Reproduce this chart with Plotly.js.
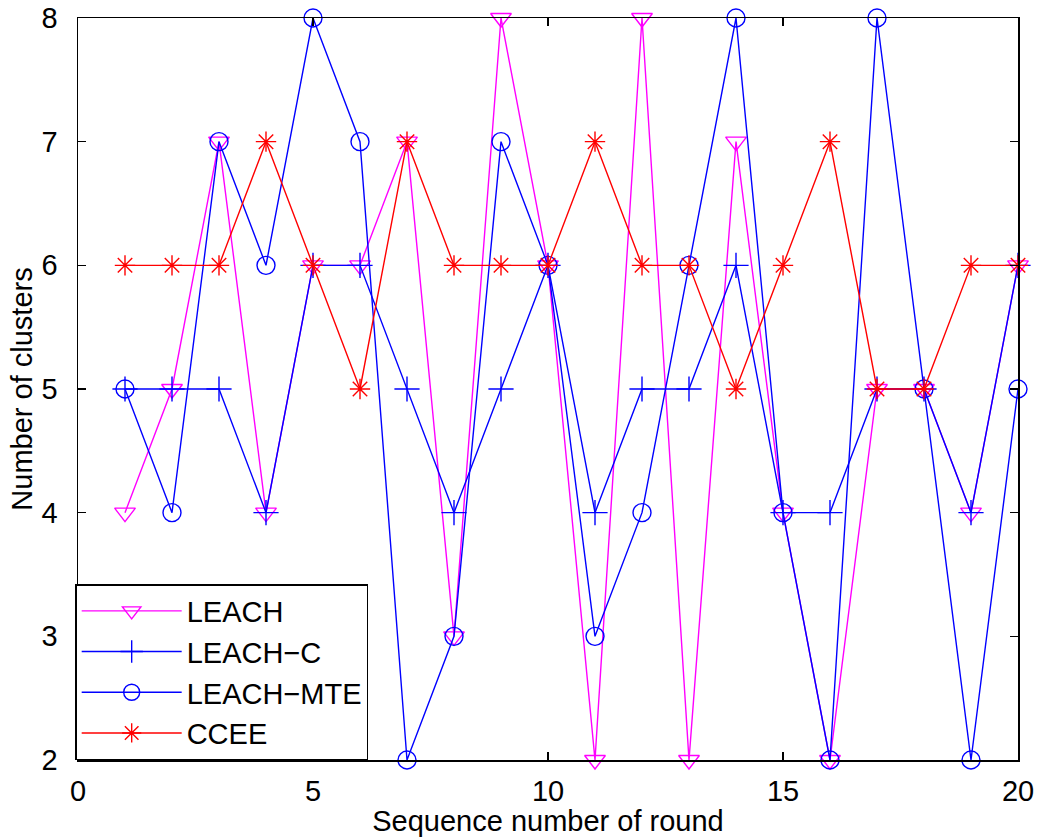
<!DOCTYPE html>
<html>
<head>
<meta charset="utf-8">
<script src="https://cdn.plot.ly/plotly-3.0.1.min.js"></script>
<style>html,body{margin:0;padding:0;background:#fff;}#chart{width:1037px;height:837px;}</style>
</head>
<body>
<div id="chart"></div>
<script>
const rounds = [1,2,3,4,5,6,7,8,9,10,11,12,13,14,15,16,17,18,19,20];
const leach    = [4,5,7,4,6,6,7,3,8,6,2,8,2,7,4,2,5,5,4,6];
const leachC   = [5,5,5,4,6,6,5,4,5,6,4,5,5,6,4,4,5,5,4,6];
const leachMTE = [5,4,7,6,8,7,2,3,7,6,3,4,6,8,4,2,8,5,2,5];
const ccee     = [6,6,6,7,6,5,7,6,6,6,7,6,6,5,6,7,5,5,6,6];
const seriesNames = ['LEACH','LEACH\u2212C','LEACH\u2212MTE','CCEE'];
const xTicks = [0,5,10,15,20];
const yTicks = [2,3,4,5,6,7,8];

const FONT = 'Liberation Sans, Arial, Helvetica, sans-serif';
const FS = 29;
function tr(y, name, color, symbol, size){
  return {x: rounds, y: y, name: name, type: 'scatter', mode: 'lines+markers',
    cliponaxis: false,
    line: {color: color, width: 1.4},
    marker: {symbol: symbol, size: size, color: color, line: {color: color, width: 1.4}}};
}
const data = [
  tr(leach, seriesNames[0], '#FF00FF', 'triangle-down-open', 18),
  tr(leachC, seriesNames[1], '#0000FF', 'cross-thin-open', 18),
  tr(leachMTE, seriesNames[2], '#0000FF', 'circle-open', 18),
  tr(ccee, seriesNames[3], '#FF0000', 'asterisk-open', 17)
];
const axisCommon = {showgrid: false, zeroline: false, showline: true, linecolor: '#000', linewidth: 1.5,
  mirror: 'ticks', ticks: 'inside', ticklen: 8, tickwidth: 1.5, tickcolor: '#000',
  tickfont: {family: FONT, size: FS, color: '#000'}};
const layout = {
  width: 1037, height: 837,
  margin: {l: 78, r: 19, t: 18, b: 77},
  paper_bgcolor: '#fff', plot_bgcolor: '#fff',
  font: {family: FONT, size: FS, color: '#000'},
  xaxis: Object.assign({}, axisCommon, {range: [0,20], tickvals: xTicks, ticktext: xTicks.map(String),
    ticklabelstandoff: 5,
    title: {text: 'Sequence number of round', font: {family: FONT, size: FS, color: '#000'}, standoff: 2}}),
  yaxis: Object.assign({}, axisCommon, {range: [2,8], tickvals: yTicks, ticktext: yTicks.map(String),
    ticklabelstandoff: 13,
    title: {text: 'Number of clusters', font: {family: FONT, size: FS, color: '#000'}, standoff: 0}}),
  showlegend: true,
  legend: {x: -0.003, y: 0, xanchor: 'left', yanchor: 'bottom', bgcolor: '#fff',
    bordercolor: '#000', borderwidth: 1.5, itemwidth: 100, tracegroupgap: 0,
    font: {family: FONT, size: FS, color: '#000'}}
};
Plotly.newPlot('chart', data, layout, {displayModeBar: false, staticPlot: true});
</script>
</body>
</html>
